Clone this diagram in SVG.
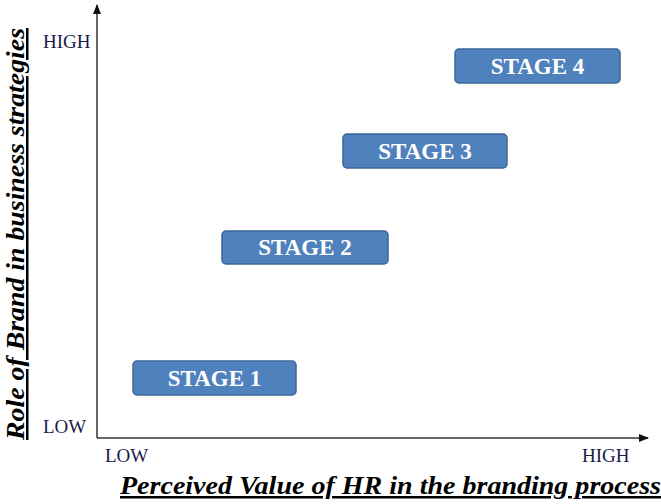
<svg xmlns="http://www.w3.org/2000/svg" width="661" height="504" viewBox="0 0 661 504">
<style>
.box{fill:#4F81BD;stroke:#3B6798;stroke-width:1.5}
.st{font-family:"Liberation Serif",serif;font-weight:bold;font-size:23px;fill:#fff;text-anchor:middle}
.tick{font-family:"Liberation Serif",serif;font-size:19px;fill:#1a1a4a}
.ax{stroke:#333;stroke-width:1.5;fill:none}
.lab{font-family:"Liberation Serif",serif;font-weight:bold;font-style:italic;font-size:25px;fill:#000;text-decoration:underline}
</style>
<defs>
<marker id="ah" markerWidth="10" markerHeight="10" refX="9" refY="5" orient="auto" markerUnits="userSpaceOnUse">
<path d="M0,1 L10,5 L0,9 Z" fill="#111"/>
</marker>
</defs>
<rect width="661" height="504" fill="#fff"/>
<g id="connectors">
<line class="ax" x1="97" y1="438" x2="97" y2="5" marker-end="url(#ah)"/>
<line class="ax" x1="97" y1="438" x2="648" y2="438" marker-end="url(#ah)"/>
</g>
<g id="stage1"><rect class="box" x="133" y="361" width="163" height="34" rx="4"/><text class="st" x="214.5" y="386">STAGE 1</text></g>
<g id="stage2"><rect class="box" x="222" y="231" width="166" height="33" rx="4"/><text class="st" x="305" y="255">STAGE 2</text></g>
<g id="stage3"><rect class="box" x="343" y="134" width="164" height="34" rx="4"/><text class="st" x="425" y="159">STAGE 3</text></g>
<g id="stage4"><rect class="box" x="455" y="49" width="165" height="34" rx="4"/><text class="st" x="537.5" y="74">STAGE 4</text></g>
<g id="ticks">
<text class="tick" x="43" y="48">HIGH</text>
<text class="tick" x="43" y="433">LOW</text>
<text class="tick" x="105" y="462">LOW</text>
<text class="tick" x="582" y="462">HIGH</text>
</g>
<g id="labels">
<text class="lab" transform="translate(24,440) rotate(-90)" textLength="412" lengthAdjust="spacingAndGlyphs">Role of Brand in business strategies</text>
<text class="lab" x="120" y="494" textLength="541" lengthAdjust="spacingAndGlyphs">Perceived Value of HR in the branding process</text>
</g>
</svg>
